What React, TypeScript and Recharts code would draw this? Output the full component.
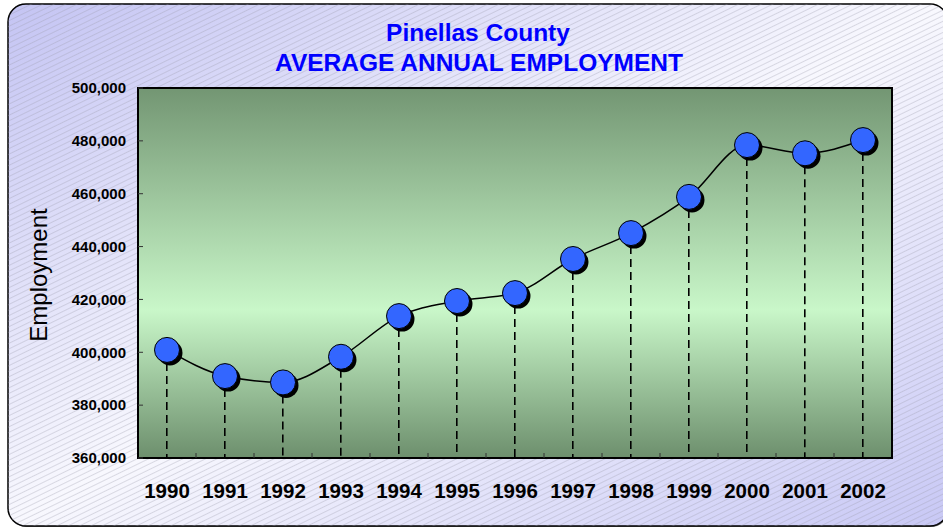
import React from 'react';
import { ComposedChart, Line, Bar, XAxis, YAxis, CartesianGrid, ReferenceArea } from 'recharts';

const years = ['1990', '1991', '1992', '1993', '1994', '1995', '1996', '1997', '1998', '1999', '2000', '2001', '2002'];
const employment = [400900, 391000, 388600, 398300, 413700, 419400, 422400, 435300, 445100, 458800, 478400, 475300, 480300];
const yTicks = [360000, 380000, 400000, 420000, 440000, 460000, 480000, 500000];

const data = years.map((year, i) => ({ year, value: employment[i] }));

const W = 943;
const H = 529;
const FONT = "'Liberation Sans', Arial, sans-serif";

const Dot = (props: any) => {
  const { cx, cy } = props;
  if (cx == null || cy == null) return null;
  return (
    <g>
      <circle cx={cx + 3} cy={cy + 3} r={12.5} fill="#000" />
      <circle cx={cx} cy={cy} r={12.5} fill="#3366ff" stroke="#000" strokeWidth={1} />
    </g>
  );
};

const DropLine = (props: any) => {
  const { x, y, width, height } = props;
  const cx = x + width / 2;
  return <line x1={cx} x2={cx} y1={y} y2={y + height} stroke="#000" strokeWidth={1.6} strokeDasharray="8 5" />;
};

const YearTick = (props: any) => {
  const { x, y, payload } = props;
  const edge = x - (payload.offset || 0);
  return (
    <g>
      {payload.index > 0 && <line x1={edge} x2={edge} y1={y - 25} y2={y - 30} stroke="#333" strokeWidth={1} />}
      <text x={x} y={y} dy="0.71em" textAnchor="middle" fontSize={20.5} fontWeight="bold" fill="#000" fontFamily={FONT}>
        {payload.value}
      </text>
    </g>
  );
};

export default function App() {
  return (
    <div style={{ position: 'absolute', left: 0, top: 0, width: W, height: H, overflow: 'hidden' }}>
      <svg width={W} height={H} style={{ position: 'absolute', left: 0, top: 0 }}>
        <defs>
          <linearGradient id="outerBg" x1="0" y1="0" x2="1" y2="1">
            <stop offset="0" stopColor="#c4c4f3" />
            <stop offset="0.5" stopColor="#f8f8fe" />
            <stop offset="1" stopColor="#c8c8f5" />
          </linearGradient>
          <pattern id="hatch" width="10" height="5" patternUnits="userSpaceOnUse" patternTransform="rotate(-26)">
            <line x1="0" y1="2.5" x2="10" y2="2.5" stroke="#9a9aa8" strokeWidth="0.6" strokeOpacity="0.55" />
          </pattern>
          <linearGradient id="plotBg" x1="0" y1="0" x2="0" y2="1">
            <stop offset="0" stopColor="#739673" />
            <stop offset="0.6" stopColor="#c9f7c9" />
            <stop offset="1" stopColor="#6d8f6d" />
          </linearGradient>
        </defs>
        <rect x={9} y={5} width={940} height={522} rx={18} fill="#000" opacity={0.5} />
        <rect x={8} y={4} width={940} height={522} rx={18} fill="url(#outerBg)" stroke="#000" strokeWidth={1.5} />
        <rect x={8} y={4} width={940} height={522} rx={18} fill="url(#hatch)" />
        <text x={478} y={41} textAnchor="middle" fontSize={24.5} fontWeight="bold" fill="#0000ff" fontFamily={FONT}>
          Pinellas County
        </text>
        <text x={479} y={71} textAnchor="middle" fontSize={24.5} fontWeight="bold" fill="#0000ff" fontFamily={FONT}>
          AVERAGE ANNUAL EMPLOYMENT
        </text>
        <text x={47} y={275} textAnchor="middle" fontSize={24} fill="#000" transform="rotate(-90 47 275)" fontFamily={FONT}>
          Employment
        </text>
      </svg>
      <div style={{ position: 'absolute', left: 0, top: 0 }}>
        <ComposedChart width={W} height={H} data={data} margin={{ top: 88, right: 51, bottom: 0, left: 0 }}>
          <CartesianGrid horizontal={false} vertical={false} fill="url(#plotBg)" fillOpacity={1} />
          <XAxis dataKey="year" height={71} axisLine={false} tickLine={false} tickSize={0} tickMargin={25}
            interval={0} tick={<YearTick />} />
          <YAxis domain={[360000, 500000]} ticks={yTicks} width={138} axisLine={false} tickSize={-5} tickMargin={17}
            tickLine={{ stroke: '#333' }} interval={0}
            tickFormatter={(v: number) => v.toLocaleString('en-US')}
            tick={{ fontSize: 15, fontWeight: 'bold', fill: '#000', fontFamily: FONT }} />
          <Bar dataKey="value" shape={<DropLine />} isAnimationActive={false} />
          <Line type="monotone" dataKey="value" stroke="#000" strokeWidth={1.5} dot={<Dot />} activeDot={false}
            isAnimationActive={false} />
          <ReferenceArea y1={360000} y2={500000} fill="none" stroke="#000" strokeWidth={2} ifOverflow="visible" />
        </ComposedChart>
      </div>
    </div>
  );
}
